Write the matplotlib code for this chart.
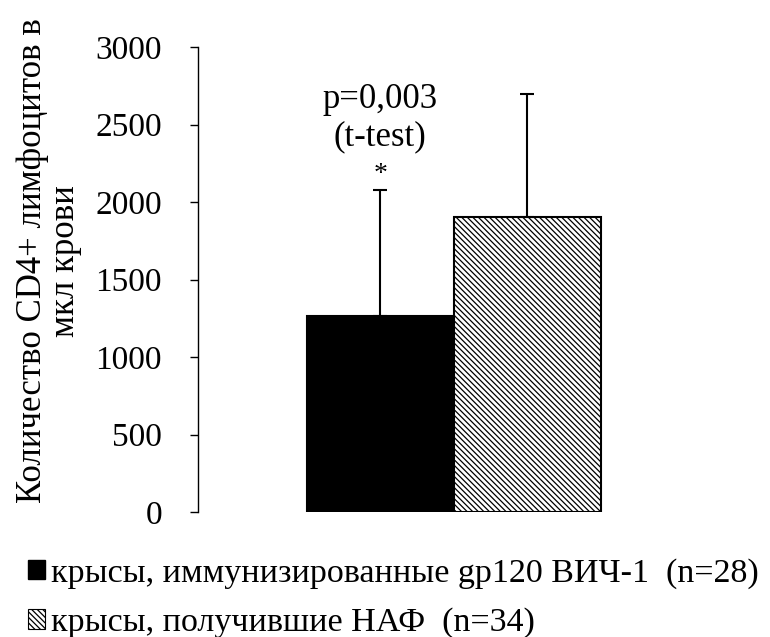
import matplotlib
matplotlib.use("Agg")
import matplotlib.pyplot as plt
from matplotlib.patches import Patch

groups = ["крысы, иммунизированные gp120 ВИЧ-1  (n=28)", "крысы, получившие НАФ  (n=34)"]
means = [1265, 1905]
errors_up = [810, 795]
yticks = [0, 500, 1000, 1500, 2000, 2500, 3000]
ylabel = "Количество CD4+ лимфоцитов в\nмкл крови"
annot = ["p=0,003", "(t-test)", "*"]

plt.rcParams['font.family'] = ['Liberation Serif', 'DejaVu Serif']
plt.rcParams['hatch.linewidth'] = 0.9

fig = plt.figure(figsize=(7.7, 6.37), dpi=100)
ax = fig.add_axes([198/770, 1-512/637, 500/770, (512-47)/637])

x = [0, 1]
colors = ['black', 'white']
hatches = [None, '\\\\\\\\\\\\']
for xi, m, c, h in zip(x, means, colors, hatches):
    ax.bar(xi, m, width=1.0, color=c, edgecolor='black', linewidth=1.5, hatch=h)
ax.errorbar(x, means, yerr=[[0, 0], errors_up], fmt='none', ecolor='black',
            elinewidth=1.5, capsize=5, capthick=1.5)

ax.set_xlim(-1.24, 2.16)
ax.set_ylim(0, 3000)
ax.set_yticks(yticks)
ax.set_yticklabels([str(t) for t in yticks], fontsize=24)
ax.tick_params(axis='y', direction='out', length=6, width=1, pad=20)
ax.set_xticks([])
for s in ['top', 'right', 'bottom']:
    ax.spines[s].set_visible(False)
ax.spines['left'].set_linewidth(1)

ax.set_ylabel(ylabel, fontsize=25, linespacing=1.0)
ax.yaxis.set_label_coords(-0.232, 0.54)

ax.text(0, 2660, annot[0], ha='center', va='center', fontsize=25)
ax.text(0, 2420, annot[1], ha='center', va='center', fontsize=25)
ax.text(0, 2180, annot[2], ha='center', va='center', fontsize=20)

handles = [Patch(facecolor='black', edgecolor='black'),
           Patch(facecolor='white', edgecolor='black', hatch='\\\\\\\\\\\\', linewidth=0.8)]
fig.legend(handles, groups, loc='lower left', bbox_to_anchor=(-0.004, -0.05),
           frameon=False, fontsize=24.5, handlelength=0.5, handleheight=0.5,
           handletextpad=0.2, labelspacing=0.55)

fig.savefig("out.png", dpi=100)
